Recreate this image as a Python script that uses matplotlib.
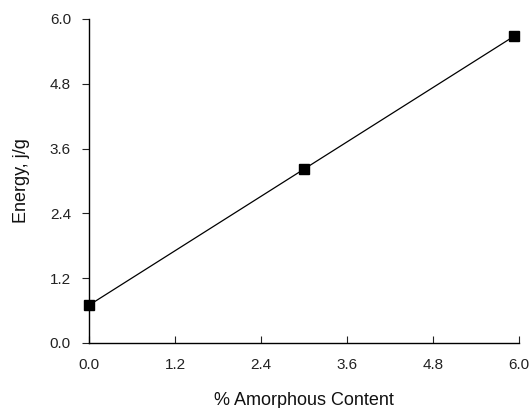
import matplotlib
matplotlib.use("Agg")
import matplotlib.pyplot as plt

# data
content = [0.0, 3.0, 5.93]
energy = [0.7, 3.22, 5.68]
ticks = [0.0, 1.2, 2.4, 3.6, 4.8, 6.0]

plt.rcParams["font.family"] = ["Liberation Sans", "DejaVu Sans"]

fig = plt.figure(figsize=(5.32, 4.08), dpi=100)
ax = fig.add_axes([89 / 532, 65 / 408, 430 / 532, 324 / 408])

ax.plot(content, energy, color="black", linewidth=0.9, marker="s",
        markersize=7, markerfacecolor="black", markeredgecolor="black",
        clip_on=False)

ax.set_xlim(0, 6)
ax.set_ylim(0, 6)
ax.set_xticks(ticks)
ax.set_yticks(ticks)
ax.set_xticklabels(["{:.1f}".format(t) for t in ticks])
ax.set_yticklabels(["{:.1f}".format(t) for t in ticks])

for side in ["top", "right"]:
    ax.spines[side].set_visible(False)
for side in ["left", "bottom"]:
    ax.spines[side].set_linewidth(1.0)

ax.tick_params(axis="x", direction="in", length=5, width=0.8, pad=11,
               labelsize=11, colors="#222222")
ax.tick_params(axis="y", direction="out", length=5, width=0.8, pad=8,
               labelsize=11, colors="#222222")

ax.set_xlabel("% Amorphous Content", fontsize=13, labelpad=14,
              color="#111111")
ax.set_ylabel("Energy, j/g", fontsize=13, labelpad=14, color="#111111")

fig.savefig("out.png", dpi=100)
